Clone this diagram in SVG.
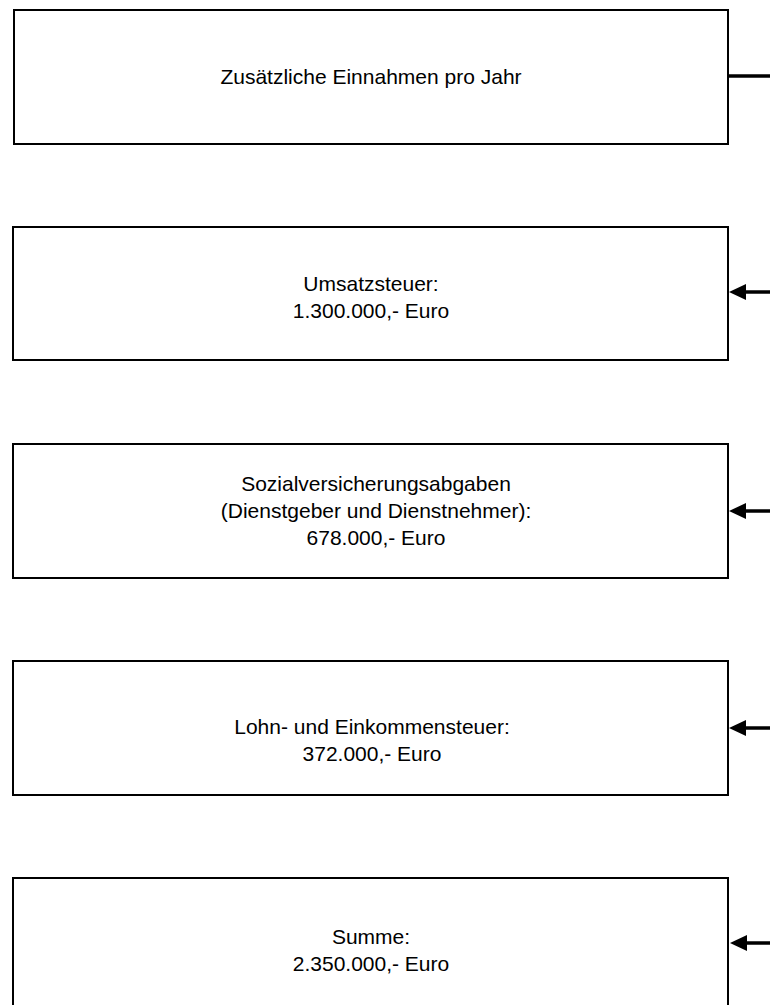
<svg xmlns="http://www.w3.org/2000/svg" width="770" height="1005" viewBox="0 0 770 1005">
  <style>
    .box { fill: #ffffff; stroke: #000000; stroke-width: 2; }
    .label { font-family: "Liberation Sans", Arial, sans-serif; font-size: 21px; fill: #000000; text-anchor: middle; }
    .conn { stroke: #000000; stroke-width: 3.5; fill: none; }
    .head { fill: #000000; }
  </style>
  <rect width="770" height="1005" fill="#ffffff"/>

  <g id="node-header">
    <rect class="box" x="14" y="10" width="714" height="134"/>
    <text class="label" x="371" y="84">Zusätzliche Einnahmen pro Jahr</text>
  </g>

  <g id="node-umsatzsteuer">
    <rect class="box" x="13" y="227" width="715" height="133"/>
    <text class="label" x="371" y="291">Umsatzsteuer:</text>
    <text class="label" x="371" y="318">1.300.000,- Euro</text>
  </g>

  <g id="node-sozialversicherung">
    <rect class="box" x="13" y="444" width="715" height="134"/>
    <text class="label" x="376" y="491">Sozialversicherungsabgaben</text>
    <text class="label" x="376" y="518">(Dienstgeber und Dienstnehmer):</text>
    <text class="label" x="376" y="545">678.000,- Euro</text>
  </g>

  <g id="node-lohnsteuer">
    <rect class="box" x="13" y="661" width="715" height="134"/>
    <text class="label" x="372" y="734">Lohn- und Einkommensteuer:</text>
    <text class="label" x="372" y="761">372.000,- Euro</text>
  </g>

  <g id="node-summe">
    <rect class="box" x="13" y="878" width="715" height="140"/>
    <text class="label" x="371" y="944">Summe:</text>
    <text class="label" x="371" y="971">2.350.000,- Euro</text>
  </g>

  <g id="connectors">
    <line class="conn" x1="727" y1="76" x2="770" y2="76"/>
    <line class="conn" x1="746" y1="292" x2="770" y2="292"/>
    <path class="head" d="M729,292 L746,284 L746,300 Z"/>
    <line class="conn" x1="746" y1="511" x2="770" y2="511"/>
    <path class="head" d="M729,511 L746,503 L746,519 Z"/>
    <line class="conn" x1="746" y1="728" x2="770" y2="728"/>
    <path class="head" d="M729,728 L746,720 L746,736 Z"/>
    <line class="conn" x1="746" y1="943" x2="770" y2="943"/>
    <path class="head" d="M730,943 L747,935 L747,951 Z"/>
  </g>
</svg>
